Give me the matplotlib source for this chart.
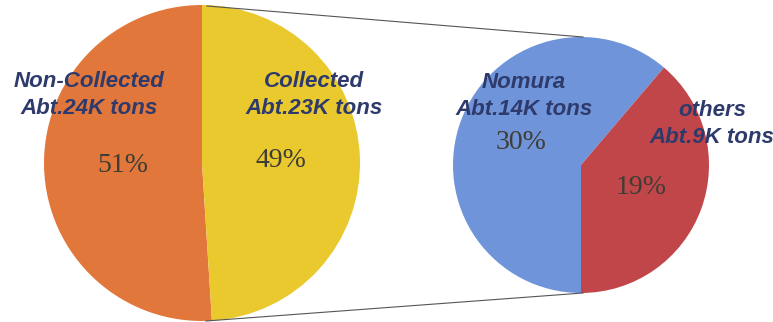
import matplotlib.pyplot as plt

# Data
main_labels = ["Non-Collected\nAbt.24K tons", "Collected\nAbt.23K tons"]
main_share = [51, 49]
sub_labels = ["Nomura\nAbt.14K tons", "others\nAbt.9K tons"]
sub_share = [30, 19]

main_colors = ["#E2773B", "#EAC92E"]
sub_colors = ["#6F94D9", "#C0464A"]
label_color = "#2E3A6B"
pct_color = "#3E3D36"

W, H = 773, 322
fig = plt.figure(figsize=(W / 100, H / 100), dpi=100)
ax = fig.add_axes([0, 0, 1, 1])

# left pie (whole)
_, _, pcts = ax.pie(main_share, colors=main_colors, startangle=90, counterclock=True,
                    center=(202, 159), radius=158, autopct='%d%%', pctdistance=0.5,
                    wedgeprops=dict(linewidth=0))
# right pie (breakdown of collected)
sub_total = sum(sub_share)
_, _, pcts2 = ax.pie(sub_share, colors=sub_colors, startangle=-90, counterclock=False,
                     center=(581, 157), radius=128,
                     autopct=lambda p: f'{p * sub_total / 100:.0f}%', pctdistance=0.5,
                     wedgeprops=dict(linewidth=0))
for t in list(pcts) + list(pcts2):
    t.set_fontfamily("Liberation Serif")
    t.set_fontsize(20)
    t.set_color(pct_color)

# connector lines
ax.plot([207, 583], [H - 6, H - 37], color="#555555", lw=0.8)
ax.plot([206, 583], [H - 321, H - 293], color="#555555", lw=0.8)

# category labels
label_pos = [(89, 95), (314, 95), (524, 96), (712, 124)]
for (x, y), txt in zip(label_pos, main_labels + sub_labels):
    ax.text(x, H - y, txt, ha='center', va='center', fontsize=16, fontweight='bold',
            fontstyle='italic', family='Liberation Sans', color=label_color,
            linespacing=1.4)

ax.set_xlim(0, W)
ax.set_ylim(0, H)
ax.set_aspect('auto')
ax.axis('off')
fig.savefig("out.png", dpi=100, facecolor="white")
